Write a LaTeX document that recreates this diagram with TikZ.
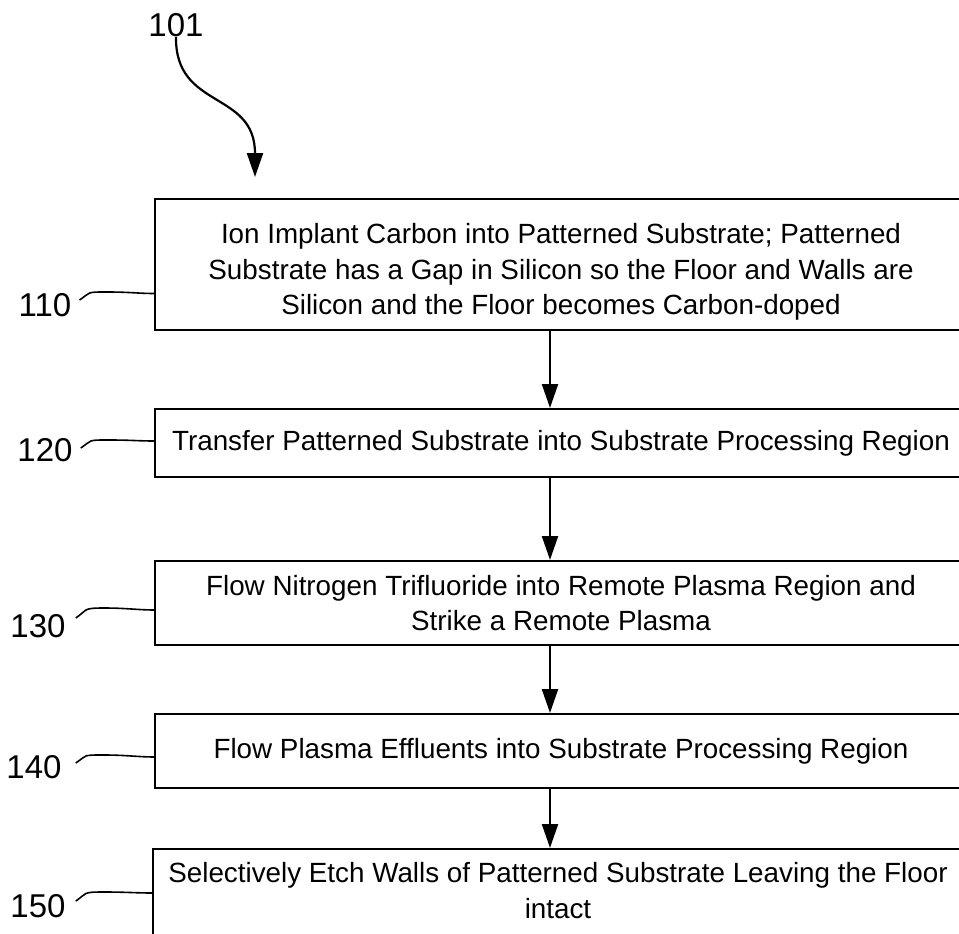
\documentclass[tikz,border=0pt]{standalone}
\usepackage{fontspec}
\setmainfont{Liberation Sans}
\usepackage{tikz}
\usetikzlibrary{positioning, arrows.meta}

\begin{document}
\begin{tikzpicture}[x=1pt,y=1pt]
						\tikzstyle{stepbox}=[rectangle,draw=black,line width=2pt,minimum width=812pt,inner sep=0pt,align=center,font=\fontsize{27.8}{35.5}\selectfont]
						\tikzstyle{label}=[inner sep=0pt,font=\fontsize{33}{33}\selectfont]
						\tikzstyle{arr}=[line width=2.2pt,-{Triangle[length=24pt,width=16pt]}]
						\tikzstyle{wave}=[line width=1.6pt]
						\useasboundingbox (0,0) rectangle (959,-934);
						\clip (0,0) rectangle (959,-934);
						% steps
						\node[stepbox,minimum height=131pt](b110) at (561,-264.5) {\rule{0pt}{35pt}Ion Implant Carbon into Patterned Substrate; Patterned\\Substrate has a Gap in Silicon so the Floor and Walls are\\Silicon and the Floor becomes Carbon-doped};
						\node[stepbox,minimum height=68pt](b120) at (561,-443) {Transfer Patterned Substrate into Substrate Processing Region};
						\node[stepbox,minimum height=84pt](b130) at (561,-603) {Flow Nitrogen Trifluoride into Remote Plasma Region and\\Strike a Remote Plasma};
						\node[stepbox,minimum height=74pt](b140) at (561,-751) {Flow Plasma Effluents into Substrate Processing Region};
						\node[stepbox,minimum height=95pt,minimum width=810pt](b150) at (558,-896.5) {Selectively Etch Walls of Patterned Substrate Leaving the Floor\\intact\rule[-12pt]{0pt}{0pt}};
						% reference numerals
						\node[label](l101) at (176,-25) {101};
						\node[label](l110) at (45,-305) {110};
						\node[label](l120) at (45,-450) {120};
						\node[label](l130) at (38,-626) {130};
						\node[label](l140) at (34,-767) {140};
						\node[label](l150) at (38,-906) {150};
						\coordinate (a101) at (255,-177);
						\draw[arr](l101.south) .. controls (175,-110) and (255,-90) .. (a101);
						% flow
						\draw[arr](b110.south -| 550,0) -- (b120.north -| 550,0);
						\draw[arr](b120.south -| 550,0) -- (b130.north -| 550,0);
						\draw[arr](b130.south -| 550,0) -- (b140.north -| 550,0);
						\draw[arr](b140.south -| 550,0) -- (b150.north -| 550,0);
						% leaders
						\draw[wave]([xshift=8pt,yshift=5pt]l110.east) .. controls +(12,8) and +(-22,0) .. ++(28,8) .. controls +(22,0) and +(-15,0) .. ([yshift=-29pt]b110.west);
						\draw[wave]([xshift=8pt,yshift=2pt]l120.east) .. controls +(12,8) and +(-22,0) .. ++(28,8) .. controls +(22,0) and +(-15,0) .. ([yshift=2pt]b120.west);
						\draw[wave]([xshift=10pt,yshift=8pt]l130.east) .. controls +(12,8) and +(-22,0) .. ++(28,10) .. controls +(22,0) and +(-15,0) .. ([yshift=-7pt]b130.west);
						\draw[wave]([xshift=14pt,yshift=4pt]l140.east) .. controls +(12,8) and +(-22,0) .. ++(28,8) .. controls +(22,0) and +(-15,0) .. ([yshift=-6pt]b140.west);
						\draw[wave]([xshift=10pt,yshift=5pt]l150.east) .. controls +(12,8) and +(-22,0) .. ++(28,9) .. controls +(22,0) and +(-15,0) .. ([yshift=3.5pt]b150.west);
					\end{tikzpicture}
\end{document}
